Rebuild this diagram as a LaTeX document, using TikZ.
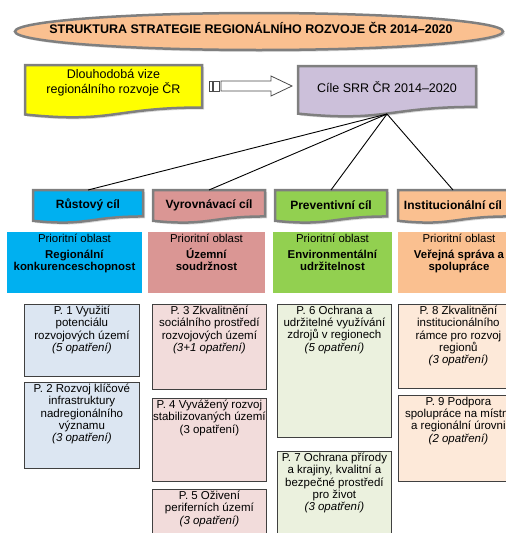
\documentclass[tikz,border=0pt]{standalone}
\usepackage{fontspec}
\setmainfont{Liberation Sans}
\usetikzlibrary{calc, positioning, shadows, backgrounds}

\definecolor{frame}{HTML}{7F7F7F}
\definecolor{peach}{HTML}{FAC090}
\definecolor{vizeyellow}{HTML}{FFFF00}
\definecolor{cilepurple}{HTML}{CCC0DA}
\definecolor{rustblue}{HTML}{00B0F0}
\definecolor{vyrovred}{HTML}{DA9694}
\definecolor{prevgreen}{HTML}{92D050}
\definecolor{instorange}{HTML}{FAC090}
\definecolor{paleblue}{HTML}{DCE6F2}
\definecolor{palered}{HTML}{F2DCDB}
\definecolor{palegreen}{HTML}{EBF1DE}
\definecolor{paleorange}{HTML}{FDE9D9}

% vlnity ram za uzlem: #1 uzel, #2 vypln, #3 vyska
\newcommand{\wavebox}[3]{%
  \begin{scope}[on background layer]
  \draw[draw=frame, line width=2.5pt, fill=#2,
        drop shadow={opacity=0.3, shadow xshift=2pt, shadow yshift=-2pt}]
    let \p1=(#1.north west), \p2=(#1.north east), \n2={(\x1+\x2)/2} in
    (\x1,\y1) -- (\x2,\y1) -- (\x2,\y1-0.802*#3pt)
    .. controls (\n2,\y1-0.802*#3pt) and (\n2,\y1-1.107*#3pt) .. (\x1,\y1-0.934*#3pt) -- cycle;
  \end{scope}}

\begin{document}
\begin{tikzpicture}[x=1pt, y=-1pt,
    headline/.style={draw=frame, line width=2.5pt, fill=peach,
        drop shadow={opacity=0.3, shadow xshift=2pt, shadow yshift=-2pt}},
    headtext/.style={inner sep=0pt, font=\bfseries\fontsize{12.5}{14}\selectfont},
    topbox/.style={align=center, inner sep=0pt, outer sep=0pt,
        font=\fontsize{12.5}{15}\selectfont},
    goal/.style={minimum height=30pt, inner sep=0pt, outer sep=0pt,
        font=\bfseries\fontsize{12}{14}\selectfont},
    area/.style={anchor=north west, minimum height=61pt, inner sep=0pt, outer sep=0pt},
    areatext/.style={align=center, inner sep=2pt, font=\fontsize{11.4}{12}\selectfont},
    measure/.style={anchor=north west, draw=black!75, line width=0.8pt, inner sep=0pt},
    meastext/.style={align=center, inner sep=2pt, font=\fontsize{11.5}{12.2}\selectfont},
    branch/.style={black, line width=0.9pt},
    blockarrow/.style={draw=black!70, line width=0.8pt, fill=white}]
    \useasboundingbox (0,0) rectangle (506,533);

    % nadpis
    \node (head) [headtext] at (251,28) {STRUKTURA STRATEGIE REGIONÁLNÍHO ROZVOJE ČR 2014–2020};
    \begin{scope}[on background layer]
        \draw[headline] (259,31.5) ellipse [x radius=244pt, y radius=18.5pt];
    \end{scope}

    % vize a cile
    \node (vize) [topbox, minimum width=177pt, minimum height=36pt] at (113.5,83) {Dlouhodobá vize\\regionálního rozvoje ČR};
    \wavebox{vize}{vizeyellow}{53}
    \node (cile) [topbox, minimum width=178pt, minimum height=42pt] at (387,87) {Cíle SRR ČR 2014–2020};
    \wavebox{cile}{cilepurple}{51}

    % sipka
    \draw[blockarrow] (209,81) rectangle (212,91);
    \draw[blockarrow] (213,81) rectangle (219,91);
    \draw[blockarrow] (221,81) -- (271,81) -- (271,76) -- (292,86) -- (271,96) -- (271,91) -- (221,91) -- cycle;

    % cile
    \coordinate (apex) at (387,114);
    \node (rust) [goal, minimum width=110pt] at (88,205) {Růstový cíl};
    \node (vyrov) [goal, minimum width=112pt] at (209,205) {Vyrovnávací cíl};
    \node (prev) [goal, minimum width=112pt] at (331,205) {Preventivní cíl};
    \node (inst) [goal, minimum width=110pt] at (453,205) {Institucionální cíl};
    \wavebox{rust}{rustblue}{33}
    \wavebox{vyrov}{vyrovred}{33}
    \wavebox{prev}{prevgreen}{33}
    \wavebox{inst}{instorange}{33}
    \foreach \g in {rust,vyrov,prev,inst}
        \draw[branch] (apex) -- (\g.north);

    % prioritni oblasti
    \node (oblA) [area, fill=rustblue, minimum width=135pt] at (7,232) {};
    \node (oblB) [area, fill=vyrovred, minimum width=117pt] at (148,232) {};
    \node (oblC) [area, fill=prevgreen, minimum width=119pt] at (273,232) {};
    \node (oblD) [area, fill=instorange, minimum width=122pt] at (398,232) {};
    \node (oblAt) [areatext, below=0pt of oblA.north] {Prioritní oblast\\[4pt]\textbf{Regionální}\\\textbf{konkurenceschopnost}};
    \node (oblBt) [areatext, below=0pt of oblB.north] {Prioritní oblast\\[4pt]\textbf{Územní}\\\textbf{soudržnost}};
    \node (oblCt) [areatext, below=0pt of oblC.north] {Prioritní oblast\\[4pt]\textbf{Environmentální}\\\textbf{udržitelnost}};
    \node (oblDt) [areatext, below=0pt of oblD.north] {Prioritní oblast\\[4pt]\textbf{Veřejná správa a}\\\textbf{spolupráce}};

    % priority
    \node (p1) [measure, fill=paleblue, minimum width=115pt, minimum height=72pt] at (24,304) {};
    \node (p2) [measure, fill=paleblue, minimum width=115pt, minimum height=86pt] at (24,382) {};
    \node (p3) [measure, fill=palered, minimum width=114pt, minimum height=85pt] at (152,304) {};
    \node (p4) [measure, fill=palered, minimum width=114pt, minimum height=83pt] at (152,398) {};
    \node (p5) [measure, fill=palered, minimum width=114pt, minimum height=60pt] at (152,489) {};
    \node (p6) [measure, fill=palegreen, minimum width=114pt, minimum height=133pt] at (277,304) {};
    \node (p7) [measure, fill=palegreen, minimum width=114pt, minimum height=100pt] at (277,451) {};
    \node (p8) [measure, fill=paleorange, minimum width=120pt, minimum height=84pt] at (398,304) {};
    \node (p9) [measure, fill=paleorange, minimum width=120pt, minimum height=86pt] at (398,395) {};

    \node (p1t) [meastext, below=0pt of p1.north] {P. 1 Využití\\potenciálu\\rozvojových území\\\textit{(5 opatření)}};
    \node (p2t) [meastext, below=0pt of p2.north] {P. 2 Rozvoj klíčové\\infrastruktury\\nadregionálního\\významu\\\textit{(3 opatření)}};
    \node (p3t) [meastext, below=0pt of p3.north] {P. 3 Zkvalitnění\\sociálního prostředí\\rozvojových území\\\textit{(3+1 opatření)}};
    \node (p4t) [meastext, below=0pt of p4.north] {P. 4 Vyvážený rozvoj\\stabilizovaných území\\(3 opatření)};
    \node (p5t) [meastext, below=0pt of p5.north] {P. 5 Oživení\\periferních území\\\textit{(3 opatření)}};
    \node (p6t) [meastext, below=0pt of p6.north] {P. 6 Ochrana a\\udržitelné využívání\\zdrojů v regionech\\\textit{(5 opatření)}};
    \node (p7t) [meastext, below=0pt of p7.north] {P. 7 Ochrana přírody\\a krajiny, kvalitní a\\bezpečné prostředí\\pro život\\\textit{(3 opatření)}};
    \node (p8t) [meastext, below=0pt of p8.north] {P. 8 Zkvalitnění\\institucionálního\\rámce pro rozvoj\\regionů\\\textit{(3 opatření)}};
    \node (p9t) [meastext, below=0pt of p9.north] {P. 9 Podpora\\spolupráce na místní\\a regionální úrovni\\\textit{(2 opatření)}};
\end{tikzpicture}
\end{document}
